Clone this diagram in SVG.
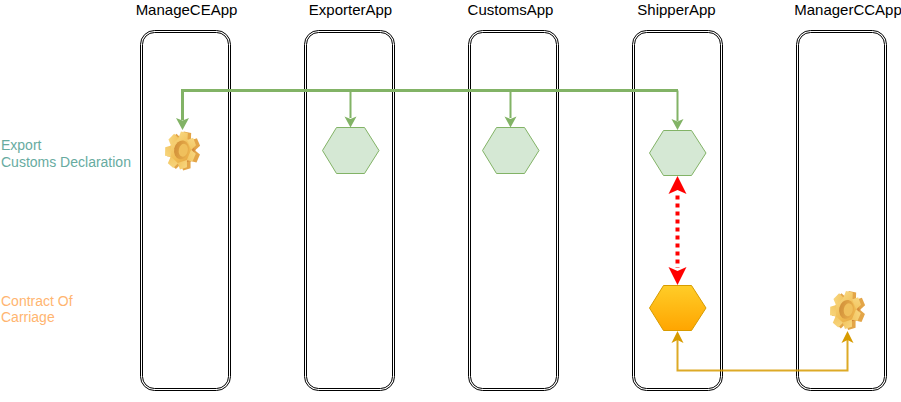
<svg xmlns="http://www.w3.org/2000/svg" width="901" height="402" viewBox="0 0 901 402">
<style>
text{font-family:"Liberation Sans",Arial,sans-serif;font-size:14px}
.title{font-size:15px;text-anchor:middle}
.lane{fill:#fff;stroke:#000;stroke-width:1}
.lane2{fill:none;stroke:#000;stroke-width:1}
.green{fill:#d5e8d4;stroke:#82b366;stroke-width:1}
.cg{fill:none;stroke:#82b366;stroke-width:2}
.cg3{fill:none;stroke:#82b366;stroke-width:3}
.cy{fill:none;stroke:#d79b00;stroke-width:2;opacity:.85}
</style>
<defs>
<linearGradient id="orange" x1="0" y1="0" x2="0" y2="1"><stop offset="0" stop-color="#ffcd28"/><stop offset="1" stop-color="#ffa500"/></linearGradient>
<linearGradient id="gearFill" gradientUnits="userSpaceOnUse" x1="-16" y1="-14" x2="14" y2="14"><stop offset="0" stop-color="#f9dc88"/><stop offset="0.6" stop-color="#f0bc52"/><stop offset="1" stop-color="#e3a03e"/></linearGradient>
<linearGradient id="gearSide" gradientUnits="userSpaceOnUse" x1="-5" y1="-10" x2="10" y2="15"><stop offset="0" stop-color="#e3a548"/><stop offset="1" stop-color="#c9772f"/></linearGradient>
<linearGradient id="gearRing" x1="0" y1="0" x2="1" y2="0"><stop offset="0" stop-color="#d2913a"/><stop offset="1" stop-color="#eab04c"/></linearGradient>
<g id="teeth">
<circle r="14"/>
<path d="M-6,-12 L-4.500,-19.500 L4.500,-19.500 L6,-12 Z"/>
<path d="M-6,-12 L-4.500,-19.500 L4.500,-19.500 L6,-12 Z" transform="rotate(51.430)"/>
<path d="M-6,-12 L-4.500,-19.500 L4.500,-19.500 L6,-12 Z" transform="rotate(102.860)"/>
<path d="M-6,-12 L-4.500,-19.500 L4.500,-19.500 L6,-12 Z" transform="rotate(154.290)"/>
<path d="M-6,-12 L-4.500,-19.500 L4.500,-19.500 L6,-12 Z" transform="rotate(205.710)"/>
<path d="M-6,-12 L-4.500,-19.500 L4.500,-19.500 L6,-12 Z" transform="rotate(257.140)"/>
<path d="M-6,-12 L-4.500,-19.500 L4.500,-19.500 L6,-12 Z" transform="rotate(308.570)"/>
</g>
<g id="gear">
<use href="#teeth" fill="url(#gearSide)" transform="translate(1.500,0.500) rotate(12) scale(.84,.98)"/>
<use href="#teeth" fill="url(#gearFill)" transform="translate(-1.500,0) rotate(12) scale(.78,.96)"/>
<ellipse cx="-0.500" cy="-0.500" rx="7.500" ry="9.500" fill="url(#gearRing)" transform="rotate(12)"/>
<ellipse cx="1.200" cy="-0.500" rx="4.500" ry="6.500" fill="#f0c05c" transform="rotate(12)"/>
</g>
</defs>
<g id="lane-managece"><rect class="lane" x="140.500" y="30.500" width="90" height="360" rx="14"/><rect class="lane2" x="142.500" y="32.500" width="86" height="356" rx="12"/><text class="title" x="186.500" y="15">ManageCEApp</text></g>
<g id="lane-exporter"><rect class="lane" x="304.500" y="30.500" width="90" height="360" rx="14"/><rect class="lane2" x="306.500" y="32.500" width="86" height="356" rx="12"/><text class="title" x="350.500" y="15">ExporterApp</text></g>
<g id="lane-customs"><rect class="lane" x="468.500" y="30.500" width="90" height="360" rx="14"/><rect class="lane2" x="470.500" y="32.500" width="86" height="356" rx="12"/><text class="title" x="510.500" y="15">CustomsApp</text></g>
<g id="lane-shipper"><rect class="lane" x="632.500" y="30.500" width="90" height="360" rx="14"/><rect class="lane2" x="634.500" y="32.500" width="86" height="356" rx="12"/><text class="title" x="676.500" y="15">ShipperApp</text></g>
<g id="lane-managercc"><rect class="lane" x="796.500" y="30.500" width="90" height="360" rx="14"/><rect class="lane2" x="798.500" y="32.500" width="86" height="356" rx="12"/><text class="title" x="848" y="15">ManagerCCApp</text></g>
<g id="label-ecd" fill="#67ab9f"><text x="1" y="150">Export</text><text x="1" y="167">Customs Declaration</text></g>
<g id="label-coc" fill="#ffb570"><text x="1" y="306">Contract Of</text><text x="1" y="322">Carriage</text></g>
<g id="gear-ce"><use href="#gear" x="182" y="150.500"/></g>
<g id="gear-cc"><use href="#gear" x="847" y="310"/></g>
<g id="hex-exporter"><polygon class="green" points="322.500,150.500 336.500,127.500 364.500,127.500 379,150.500 364.500,173.500 336.500,173.500"/></g>
<g id="hex-customs"><polygon class="green" points="482.500,150.500 496.500,127.500 524.500,127.500 539,150.500 524.500,173.500 496.500,173.500"/></g>
<g id="hex-shipper"><polygon class="green" points="649.500,153 663.500,130.500 691.500,130.500 706,153 691.500,175.500 663.500,175.500"/></g>
<g id="hex-shipper-cc"><polygon fill="url(#orange)" stroke="#d79b00" points="649.500,308 663.500,285.500 691.500,285.500 706,308 691.500,330.500 663.500,330.500"/></g>
<g id="connectors">
<path class="cg3" d="M182.500,120 V90.500 H678"/>
<path class="cg" d="M350.500,90.500 V118 M510.500,90.500 V118 M677.500,90.500 V121"/>
<path fill="#82b366" d="M182.500,130 L176,118 L182.500,120.500 L189,118 Z M350.500,127.500 L344.500,116.500 L350.500,119 L356.500,116.500 Z M510.500,127.500 L504.500,116.500 L510.500,119 L516.500,116.500 Z M677.500,130 L671.500,119 L677.500,121.500 L683.500,119 Z"/>
<path d="M677.500,195.500 V268" fill="none" stroke="#f00" stroke-width="4" stroke-dasharray="4 4"/>
<path fill="#f00" d="M677.500,176 L668.500,194 L677.500,190 L686.500,194 Z M677.500,285 L668.500,267 L677.500,271 L686.500,267 Z"/>
<path class="cy" d="M677.500,340 V370.500 H847.500 V340"/>
<path fill="#d79b00" d="M677.500,331 L671.500,343 L677.500,340 L683.500,343 Z M847.500,331 L841.500,343 L847.500,340 L853.500,343 Z"/>
</g>
</svg>
